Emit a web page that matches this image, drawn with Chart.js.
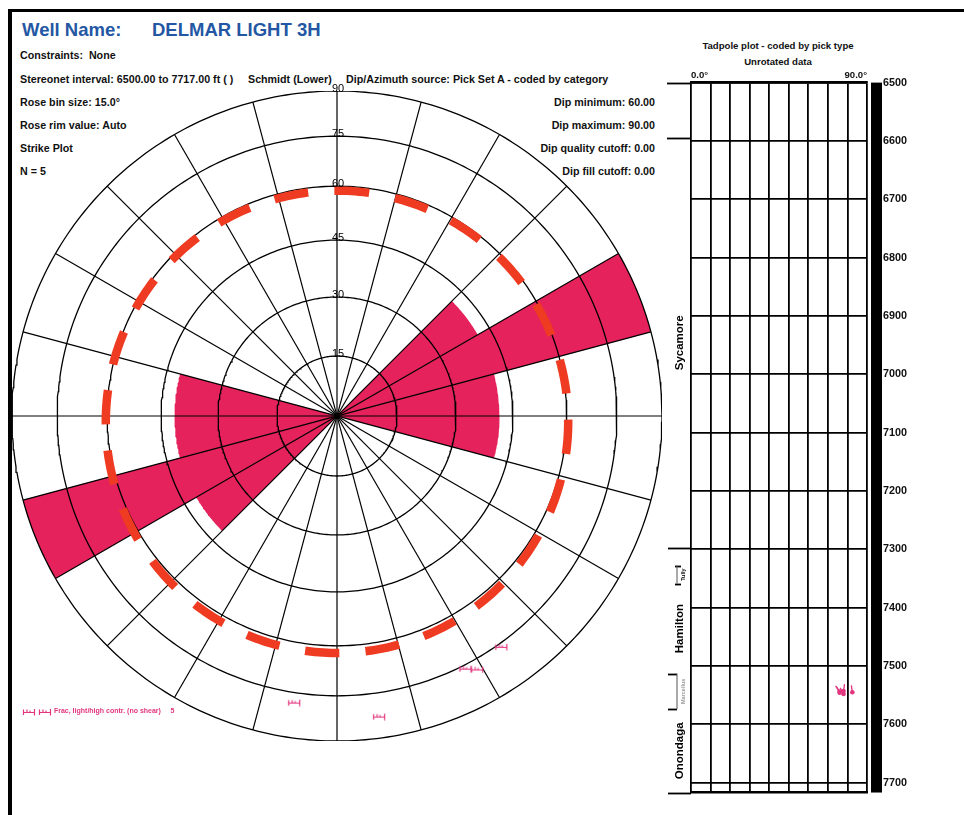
<!DOCTYPE html>
<html>
<head>
<meta charset="utf-8">
<script src="https://cdn.jsdelivr.net/npm/chart.js@4.4.1/dist/chart.umd.min.js"></script>
<style>
html,body{margin:0;padding:0;background:#fff;}
body{width:964px;height:815px;position:relative;overflow:hidden;font-family:"Liberation Sans",Arial,Helvetica,sans-serif;}
.frameTop{position:absolute;left:8px;top:9px;width:956px;height:3px;background:#000;}
.frameLeft{position:absolute;left:8px;top:9px;width:4px;height:806px;background:#000;}
.t{position:absolute;white-space:nowrap;font-weight:bold;font-size:10.7px;line-height:12px;color:#111;}
.rt{position:absolute;white-space:nowrap;font-weight:bold;font-size:10.7px;line-height:12px;color:#111;right:309px;text-align:right;}
.well{position:absolute;top:19px;font-weight:bold;font-size:18.5px;line-height:22px;color:#2357a3;white-space:nowrap;}
.tp{position:absolute;left:678px;width:200px;text-align:center;font-weight:bold;font-size:9.6px;line-height:12px;color:#111;white-space:nowrap;}
.leg{position:absolute;left:22px;top:706px;font-weight:bold;font-size:7px;line-height:10px;color:#e2367f;white-space:nowrap;}
canvas{position:absolute;}
</style>
</head>
<body>
<div class="frameTop"></div>
<div class="frameLeft"></div>

<div class="well" style="left:22px">Well Name:</div>
<div class="well" style="left:152px">DELMAR LIGHT 3H</div>

<div class="t" style="left:20px;top:49px">Constraints:&nbsp; None</div>
<div class="t" style="left:20px;top:73px">Stereonet interval: 6500.00 to 7717.00 ft ( )</div>
<div class="t" style="left:248px;top:73px">Schmidt (Lower)</div>
<div class="t" style="left:346px;top:73px">Dip/Azimuth source: Pick Set A - coded by category</div>
<div class="t" style="left:20px;top:96px">Rose bin size: 15.0°</div>
<div class="t" style="left:20px;top:119px">Rose rim value: Auto</div>
<div class="t" style="left:20px;top:142px">Strike Plot</div>
<div class="t" style="left:20px;top:165px">N = 5</div>
<div class="rt" style="top:96px">Dip minimum: 60.00</div>
<div class="rt" style="top:119px">Dip maximum: 90.00</div>
<div class="rt" style="top:142px">Dip quality cutoff: 0.00</div>
<div class="rt" style="top:165px">Dip fill cutoff: 0.00</div>

<div class="tp" style="top:40px">Tadpole plot - coded by pick type</div>
<div class="tp" style="top:56px">Unrotated data</div>

<canvas id="net" width="670" height="670" style="left:2px;top:81px;width:670px;height:670px"></canvas>
<canvas id="tad" width="324" height="785" style="left:640px;top:30px;width:324px;height:785px"></canvas>

<div class="leg"><canvas id="lg1" width="14" height="9" style="position:static;vertical-align:middle"></canvas><canvas id="lg2" width="14" height="9" style="position:static;vertical-align:middle;margin-left:2px"></canvas> Frac, light/high contr. (no shear)&nbsp;&nbsp;&nbsp;&nbsp;&nbsp;5</div>

<script>
// ---------------- DATA ----------------
const ringDips = [15, 30, 45, 60, 75, 90];
const spokeAzimuths = [0, 15, 30, 45, 60, 75, 90, 105, 120, 135, 150, 165];
const roseBinSize = 15;
const roseBinStarts = [0, 15, 30, 45, 60, 75, 90, 105, 120, 135, 150, 165, 180, 195, 210, 225, 240, 255, 270, 285, 300, 315, 330, 345];
const roseCounts    = [0, 0, 0, 1, 2, 1, 1, 0, 0, 0, 0, 0, 0, 0, 0, 1, 2, 1, 1, 0, 0, 0, 0, 0];
const roseRimValue = 2;
const refCircleDip = 60.4;
const pickDepths = [7543, 7545, 7546, 7548, 7544];
const pickDips = [78, 82.5, 76, 78, 76];
const pickDipAzimuths = [8.5, 352, 333, 331, 324.5];
const pickCategory = 'Frac, light/high contr. (no shear)';
const dipTicks = [0, 10, 20, 30, 40, 50, 60, 70, 80, 90];
const depthTicks = [6500, 6600, 6700, 6800, 6900, 7000, 7100, 7200, 7300, 7400, 7500, 7600, 7700];
const intervalTop = 6500;
const intervalBase = 7717;
const formationNames = ['', 'Sycamore', '', 'Tully', 'Hamilton', 'Marcellus', 'Onondaga'];
const formationTops = [6500, 6595, 7297, 7328, 7359, 7513, 7574];

// ---------------- STYLE ----------------
const MAG = '#e2367f';
const PETAL = '#e5225b';
const DASH = '#ee3b22';
const refCircleOffsetY = -0.018;
Chart.defaults.font.family = '"Liberation Sans", Arial, sans-serif';

const rad = d => d * Math.PI / 180;
const schmidtR = d => Math.SQRT2 * Math.sin(rad(d) / 2);
const polar = (az, r) => ({x: r * Math.sin(rad(az)), y: r * Math.cos(rad(az))});

function poleSymbol() {
  const c = document.createElement('canvas');
  c.width = 14; c.height = 9;
  const g = c.getContext('2d');
  g.strokeStyle = MAG; g.lineWidth = 1.2;
  g.beginPath();
  g.moveTo(1.5, 2.5); g.lineTo(1.5, 8);
  g.moveTo(1.5, 5.5); g.lineTo(12.5, 5.5);
  g.moveTo(12.5, 2); g.lineTo(12.5, 8.5);
  g.moveTo(5, 5.5); g.lineTo(5, 2.5);
  g.moveTo(8, 5.5); g.lineTo(8, 3.5);
  g.stroke();
  return c;
}
['lg1', 'lg2'].forEach(id => {
  document.getElementById(id).getContext('2d').drawImage(poleSymbol(), 0, 0);
});

// ---------------- STEREONET ----------------
const netDatasets = [];
roseCounts.forEach((c, i) => {
  if (!c) return;
  const r = c / roseRimValue;
  const pts = [{x: 0, y: 0}];
  for (let a = roseBinStarts[i]; a <= roseBinStarts[i] + roseBinSize + 1e-9; a += 0.5) pts.push(polar(a, r));
  pts.push({x: 0, y: 0});
  netDatasets.push({data: pts, showLine: true, fill: 'shape', backgroundColor: PETAL,
    borderColor: 'rgba(0,0,0,0)', borderWidth: 0, pointRadius: 0, order: 10});
});
ringDips.forEach(d => {
  const r = schmidtR(d);
  const pts = [];
  for (let a = 0; a <= 360; a += 1) pts.push(polar(a, r));
  netDatasets.push({data: pts, showLine: true, fill: false, borderColor: '#000', borderWidth: 1.3, pointRadius: 0, order: 5});
});
spokeAzimuths.forEach(az => {
  netDatasets.push({data: [polar(az, 1), polar(az + 180, 1)], showLine: true, fill: false,
    borderColor: '#000', borderWidth: 1.2, pointRadius: 0, order: 5});
});
(() => {
  const r = schmidtR(refCircleDip);
  const pts = [];
  for (let a = -0.5; a <= 359.5; a += 1) { const p = polar(a, r); pts.push({x: p.x, y: p.y + refCircleOffsetY}); }
  netDatasets.push({data: pts, showLine: true, fill: false, borderColor: DASH, borderWidth: 8.5,
    borderDash: [34.3, 26.2], borderCapStyle: 'butt', pointRadius: 0, order: 2});
})();
netDatasets.push({
  data: pickDips.map((d, i) => polar((pickDipAzimuths[i] + 180) % 360, schmidtR(d))),
  showLine: false, pointStyle: poleSymbol(), pointRadius: 6, order: 1
});

const ringLabelPlugin = {
  id: 'ringLabels',
  afterDatasetsDraw(chart) {
    const {ctx, scales: {x, y}} = chart;
    ctx.save();
    ctx.fillStyle = '#000';
    ctx.font = '11px "Liberation Sans", Arial, sans-serif';
    ctx.textAlign = 'center';
    ctx.textBaseline = 'alphabetic';
    ringDips.forEach(d => {
      ctx.fillText(String(d), x.getPixelForValue(0) + 1, y.getPixelForValue(schmidtR(d)) + 1);
    });
    ctx.restore();
  }
};

new Chart(document.getElementById('net'), {
  type: 'scatter',
  data: {datasets: netDatasets},
  options: {
    responsive: false, animation: false, events: [],
    layout: {padding: 10},
    plugins: {legend: {display: false}, tooltip: {enabled: false}},
    elements: {line: {tension: 0}},
    scales: {
      x: {type: 'linear', min: -1, max: 1, display: false},
      y: {type: 'linear', min: -1, max: 1, display: false}
    }
  },
  plugins: [ringLabelPlugin]
});

// ---------------- TADPOLE PLOT ----------------
const PX_PER_DEG = 176 / 90, PX_PER_FT = 720.2 / 1217, TAIL = 7;
const tadDatasets = [];
pickDips.forEach((d, i) => {
  const az = rad(pickDipAzimuths[i]);
  tadDatasets.push({
    data: [{x: d, y: pickDepths[i]},
           {x: d + Math.sin(az) * TAIL / PX_PER_DEG, y: pickDepths[i] - Math.cos(az) * TAIL / PX_PER_FT}],
    showLine: true, borderColor: MAG, borderWidth: 1.3, pointRadius: 0, order: 2
  });
});
tadDatasets.push({
  data: pickDips.map((d, i) => ({x: d, y: pickDepths[i]})),
  showLine: false, pointStyle: 'circle', pointRadius: 2.3, backgroundColor: MAG, borderColor: MAG, borderWidth: 0, order: 1
});

const trackPlugin = {
  id: 'track',
  afterDraw(chart) {
    const {ctx, chartArea: a, scales: {y}} = chart;
    ctx.save();
    ctx.fillStyle = '#000';
    const yt = y.getPixelForValue(intervalTop), yb = y.getPixelForValue(intervalBase);
    ctx.fillRect(a.right + 4, yt, 11, yb - yt);
    const bounds = formationTops.concat([intervalBase]);
    ctx.strokeStyle = '#000';
    ctx.lineWidth = 1.8;
    bounds.forEach((dep, i) => {
      const py = Math.round(y.getPixelForValue(dep)) + 0.5;
      let x0 = a.left - 23, x1 = a.left;
      if (i === 3 || i === 4) { x0 = a.left - 16; x1 = a.left - 10; }
      if (i === 5 || i === 6) { x0 = a.left - 23; x1 = a.left - 14; }
      if (i === 0 || i === 1) { x0 = a.left - 24; }
      ctx.beginPath(); ctx.moveTo(x0, py); ctx.lineTo(x1, py); ctx.stroke();
    });
    ctx.lineWidth = 1;
    ctx.strokeStyle = '#555';
    [[3, 4], [5, 6]].forEach(([i, j]) => {
      ctx.beginPath();
      ctx.moveTo(a.left - 14, y.getPixelForValue(bounds[i]));
      ctx.lineTo(a.left - 14, y.getPixelForValue(bounds[j]));
      ctx.stroke();
    });
    formationNames.forEach((name, i) => {
      if (!name) return;
      const top = bounds[i], base = bounds[i + 1];
      const span = y.getPixelForValue(base) - y.getPixelForValue(top);
      const my = (y.getPixelForValue(base) + y.getPixelForValue(top)) / 2;
      const small = span < 40;
      ctx.save();
      ctx.translate(small ? a.left - 8 : a.left - 11, my);
      ctx.rotate(-Math.PI / 2);
      ctx.textAlign = 'center';
      ctx.textBaseline = 'middle';
      ctx.fillStyle = name === 'Marcellus' ? '#9a9a9a' : '#000';
      ctx.font = small ? 'bold 5.5px "Liberation Sans", Arial' : 'bold 11.5px "Liberation Sans", Arial';
      ctx.fillText(name, 0, 0);
      ctx.restore();
    });
    ctx.restore();
  }
};

new Chart(document.getElementById('tad'), {
  type: 'scatter',
  data: {datasets: tadDatasets},
  options: {
    responsive: false, animation: false, events: [],
    layout: {padding: {left: 51, right: 0, top: 40.6, bottom: 12.2}},
    plugins: {legend: {display: false}, tooltip: {enabled: false}},
    scales: {
      x: {
        type: 'linear', position: 'top', min: 0, max: 90,
        afterBuildTicks: s => { s.ticks = dipTicks.map(v => ({value: v})); },
        afterFit: s => { s.height = 12; },
        grid: {color: '#000', lineWidth: 1.8, drawTicks: false},
        border: {display: true, color: '#000', width: 2.4},
        ticks: {
          autoSkip: false, maxRotation: 0, align: 'inner', padding: 1.5,
          color: '#111', font: {size: 9.6, weight: 'bold'},
          callback: v => v === dipTicks[0] ? '0.0°' : (v === dipTicks[dipTicks.length - 1] ? '90.0°' : '')
        }
      },
      x2: {
        type: 'linear', position: 'bottom', min: 0, max: 90,
        afterFit: s => { s.height = 0; },
        grid: {display: false},
        border: {display: true, color: '#000', width: 2.4},
        ticks: {display: false}
      },
      y: {
        type: 'linear', position: 'right', reverse: true, min: intervalTop, max: intervalBase,
        afterBuildTicks: s => { s.ticks = depthTicks.map(v => ({value: v})); },
        afterFit: s => { s.width = 97; },
        grid: {color: '#000', lineWidth: 1.8, drawTicks: false},
        border: {display: false},
        ticks: {padding: 16, color: '#111', font: {size: 10.8, weight: 'bold'}, callback: v => String(v)}
      }
    }
  },
  plugins: [trackPlugin]
});
</script>
</body>
</html>
